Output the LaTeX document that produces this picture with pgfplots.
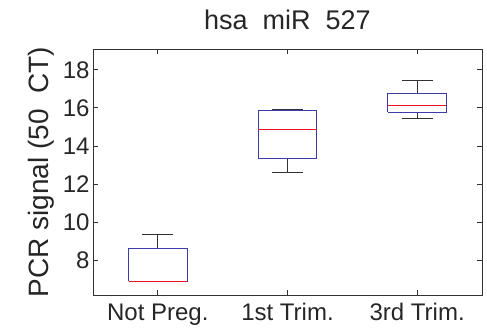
\documentclass[border=0pt]{standalone}
\usepackage{fontspec}
\setmainfont{Liberation Sans}
\usepackage{pgfplots}
\pgfplotsset{compat=1.18}
\definecolor{boxblue}{RGB}{60,60,170}
\definecolor{axgray}{RGB}{50,50,50}
\definecolor{medred}{RGB}{235,20,40}
\begin{document}
\begin{tikzpicture}
\begin{axis}[
  scale only axis,
  width=389pt, height=246pt,
  xmin=0.5, xmax=3.5,
  ymin=6.16, ymax=19.1,
  xtick={1,2,3},
  xticklabels={Not Preg., 1st Trim., 3rd Trim.},
  ytick={8,10,12,14,16,18},
  tick align=inside,
  tick pos=both,
  major tick length=5pt,
  axis line style={axgray, line width=0.9pt},
  every tick/.style={axgray, line width=0.9pt},
  /pgf/number format/assume math mode=true,
  tick label style={font=\fontsize{24}{26}\selectfont, text=black!85},
  xticklabel style={yshift=-5pt},
  yticklabel style={xshift=0pt},
  title={hsa\ \ miR\ \ 527},
  title style={font=\fontsize{27}{30}\selectfont, text=black!85, yshift=10pt},
  ylabel={PCR signal (50\ \ CT)},
  ylabel style={font=\fontsize{28}{30}\selectfont, text=black!85, yshift=2pt},
  unbounded coords=jump,
]
% whiskers
\addplot[draw=axgray, line width=1pt, mark=none] coordinates {
  (1,8.58) (1,9.35) (nan,nan) (0.88,9.35) (1.12,9.35) (nan,nan) (0.88,6.88) (1.12,6.88) (nan,nan)
  (2,15.86) (2,15.92) (nan,nan) (1.88,15.92) (2.12,15.92) (nan,nan) (2,13.33) (2,12.58) (nan,nan) (1.88,12.58) (2.12,12.58) (nan,nan)
  (3,16.74) (3,17.46) (nan,nan) (2.88,17.46) (3.12,17.46) (nan,nan) (3,15.76) (3,15.46) (nan,nan) (2.88,15.46) (3.12,15.46)
};
% boxes
\addplot[draw=boxblue, line width=1pt, mark=none] coordinates {
  (0.775,6.88) (1.225,6.88) (1.225,8.58) (0.775,8.58) (0.775,6.88) (nan,nan)
  (1.775,13.33) (2.225,13.33) (2.225,15.86) (1.775,15.86) (1.775,13.33) (nan,nan)
  (2.775,15.76) (3.225,15.76) (3.225,16.74) (2.775,16.74) (2.775,15.76)
};
% medians
\addplot[draw=medred, line width=1.4pt, mark=none] coordinates {(0.775,6.88) (1.225,6.88)};
\addplot[draw=medred, line width=1.4pt, mark=none] coordinates {(1.775,14.88) (2.225,14.88)};
\addplot[draw=medred, line width=1.4pt, mark=none] coordinates {(2.775,16.14) (3.225,16.14)};
\coordinate (bl) at (rel axis cs:0,0);
\coordinate (tr) at (rel axis cs:1,1);
\end{axis}
\pgfresetboundingbox
\path[use as bounding box] ([xshift=-93pt,yshift=-34pt]bl) rectangle ([xshift=5pt,yshift=49pt]tr);
\end{tikzpicture}
\end{document}
